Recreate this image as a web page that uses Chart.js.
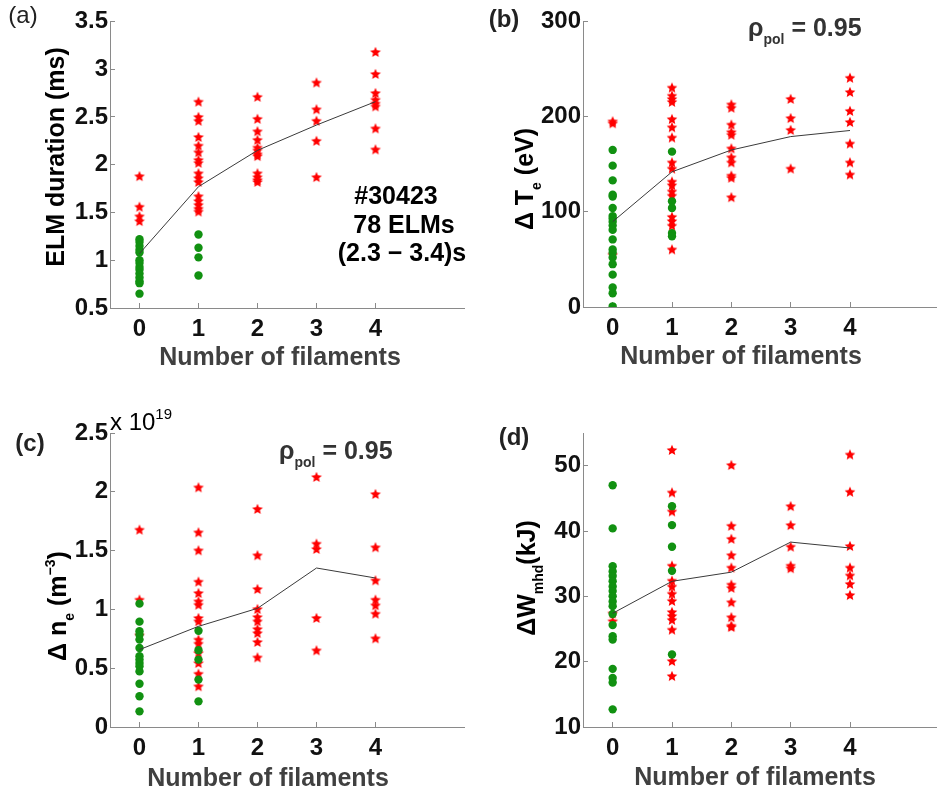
<!DOCTYPE html>
<html>
<head>
<meta charset="utf-8">
<script src="https://cdn.jsdelivr.net/npm/chart.js@4.4.1/dist/chart.umd.min.js"></script>
<style>
body { margin: 0; background: #fff; }
#fig { position: relative; width: 937px; height: 793px; overflow: hidden; background: #fff; }
#fig canvas { position: absolute; }
</style>
</head>
<body>
<div id="fig">
  <canvas id="pa" width="470" height="400" style="left:0;top:0"></canvas>
  <canvas id="pb" width="475" height="400" style="left:470px;top:0"></canvas>
  <canvas id="pc" width="470" height="393" style="left:0;top:400px"></canvas>
  <canvas id="pd" width="475" height="393" style="left:470px;top:400px"></canvas>
</div>
<script>
const FONT = '"Liberation Sans", Arial, sans-serif';
const xTicks = [0, 1, 2, 3, 4];

// (a) ELM duration (ms), index = number of filaments
const durStars = [
  [1.88, 1.56, 1.46, 1.41],
  [2.66, 2.50, 2.46, 2.29, 2.20, 2.13, 2.05, 2.02, 1.91, 1.86, 1.82, 1.67, 1.62, 1.58, 1.54, 1.51],
  [2.71, 2.48, 2.35, 2.26, 2.18, 2.15, 2.11, 2.09, 1.91, 1.87, 1.84, 1.82],
  [2.86, 2.58, 2.46, 2.25, 1.87],
  [3.18, 2.95, 2.75, 2.68, 2.64, 2.61, 2.38, 2.16]
];
const durDots = [
  [1.22, 1.19, 1.15, 1.11, 1.08, 1.00, 0.97, 0.93, 0.90, 0.86, 0.82, 0.78, 0.76, 0.65],
  [1.27, 1.13, 1.03, 0.84],
  [], [], []
];
const durMean = [1.07, 1.77, 2.15, 2.415, 2.66];
const durTicks = [0.5, 1, 1.5, 2, 2.5, 3, 3.5];

// (b) delta Te (eV)
const teStars = [
  [195, 193, 55],
  [230.5, 222, 218.6, 215.5, 197.4, 188.8, 178, 151.9, 145.4, 131.7, 128, 121.4, 117, 94.7, 90.3, 85.5, 60.5],
  [212.8, 209.3, 191.6, 183.7, 181, 166.6, 157.3, 151.9, 138, 135.8, 115.3],
  [218.6, 198.4, 186, 145.4],
  [240.8, 225.8, 206, 194.3, 171.7, 151.9, 139.2]
];
const teDots = [
  [165, 148.5, 133, 118, 116, 104, 95.5, 93, 89.6, 85.5, 81, 71, 60.5, 57, 52, 45, 34, 20.5, 14.5, 0.7],
  [163.2, 111, 104, 77.6, 74.2],
  [], [], []
];
const teMean = [89.6, 142, 164.9, 179, 185.4];
const teTicks = [0, 100, 200, 300];

// (c) delta ne (x 10^19 m^-3)
const neStars = [
  [1.678, 1.083, 0.78],
  [2.038, 1.655, 1.502, 1.236, 1.139, 1.069, 1.04, 0.927, 0.899, 0.743, 0.709, 0.63, 0.544, 0.453, 0.346],
  [1.854, 1.46, 1.173, 1.003, 0.935, 0.899, 0.833, 0.799, 0.723, 0.592],
  [2.126, 1.559, 1.514, 0.927, 0.652],
  [1.981, 1.528, 1.247, 1.083, 1.035, 0.964, 0.754]
];
const neDots = [
  [1.049, 0.896, 0.814, 0.785, 0.743, 0.672, 0.601, 0.573, 0.544, 0.516, 0.473, 0.368, 0.261, 0.133],
  [0.819, 0.652, 0.573, 0.403, 0.218],
  [], [], []
];
const neMean = [0.658, 0.856, 1.009, 1.352, 1.267];
const neTicks = [0, 0.5, 1, 1.5, 2, 2.5];

// (d) delta Wmhd (kJ)
const wStars = [
  [27.4, 26.2],
  [52.4, 45.9, 43.0, 34.7, 32.4, 31.5, 30.4, 29.3, 27.6, 27.0, 26.4, 24.9, 20.1, 17.8],
  [50.1, 40.8, 38.8, 36.3, 34.4, 31.8, 31.3, 29.1, 26.8, 25.5, 25.3],
  [43.8, 40.9, 37.6, 34.7, 34.3],
  [51.7, 46.0, 37.7, 34.4, 33.2, 31.9, 30.2]
];
const wDots = [
  [47.0, 40.4, 34.6, 33.8, 33.1, 32.3, 31.5, 30.8, 30.0, 29.2, 28.5, 27.3, 25.6, 23.9, 23.4, 18.9, 17.5, 16.8, 12.7],
  [43.8, 40.9, 37.6, 33.9, 21.1],
  [], [], []
];
const wMean = [27.4, 32.3, 33.7, 38.3, 37.4];
const wTicks = [10, 20, 30, 40, 50];

function starImage(color, r) {
  const c = document.createElement('canvas');
  const s = Math.ceil(r * 2) + 2;
  c.width = c.height = s;
  const g = c.getContext('2d');
  g.fillStyle = color;
  g.beginPath();
  for (let i = 0; i < 10; i++) {
    const rad = i % 2 ? r * 0.46 : r;
    const a = -Math.PI / 2 + i * Math.PI / 5;
    g.lineTo(s / 2 + rad * Math.cos(a), s / 2 + rad * Math.sin(a) + r * 0.08);
  }
  g.closePath();
  g.fill();
  return c;
}
const STAR = starImage('#ff0000', 5.6);

function drawRich(ctx, it) {
  const fs = it.size, ss = Math.round(fs * (it.subScale || 0.58));
  const weight = it.weight || 'bold';
  const fontFor = m => weight + ' ' + (m ? ss : fs) + 'px ' + FONT;
  ctx.save();
  ctx.fillStyle = it.color || '#000';
  ctx.textBaseline = 'alphabetic';
  ctx.textAlign = 'left';
  let total = 0;
  it.parts.forEach(([t, m]) => { ctx.font = fontFor(m); total += ctx.measureText(t).width; });
  ctx.translate(it.x, it.y);
  if (it.rotate) ctx.rotate(-Math.PI / 2);
  let cx = it.align === 'left' ? 0 : -total / 2;
  const base = fs * 0.36;
  it.parts.forEach(([t, m]) => {
    ctx.font = fontFor(m);
    const dy = m === 'sub' ? fs * 0.3 : m === 'sup' ? -fs * 0.45 : 0;
    ctx.fillText(t, cx, base + dy);
    cx += ctx.measureText(t).width;
  });
  ctx.restore();
}

function toPoints(cols) {
  const pts = [];
  cols.forEach((col, n) => col.forEach(v => pts.push({ x: n, y: v })));
  return pts;
}

function panel(id, lay, yMin, yMax, yTicks, stars, dots, mean, texts) {
  const tickFont = { family: FONT, size: 24, weight: 'bold' };
  new Chart(document.getElementById(id), {
    type: 'scatter',
    data: {
      datasets: [
        {
          type: 'line', data: mean.map((v, n) => ({ x: n, y: v })),
          borderColor: '#3a3a3a', borderWidth: 1, pointRadius: 0, fill: false, order: 0
        },
        {
          data: toPoints(dots), pointStyle: 'circle', pointRadius: 4.2,
          backgroundColor: '#119111', borderColor: '#119111', borderWidth: 0, order: 1
        },
        {
          data: toPoints(stars), pointStyle: STAR, pointRadius: 5, order: 2
        }
      ]
    },
    options: {
      responsive: false,
      animation: false,
      layout: { padding: { top: lay.top, right: lay.right, left: 0, bottom: 0 } },
      plugins: { legend: { display: false }, tooltip: { enabled: false } },
      scales: {
        x: {
          type: 'linear', min: -0.5, max: 5.5,
          afterBuildTicks: s => { s.ticks = xTicks.map(v => ({ value: v })); },
          afterFit: s => { s.height = lay.xh; },
          grid: { drawOnChartArea: false, tickLength: -5, color: '#8a8a8a' },
          border: { color: '#8a8a8a', width: 1 },
          ticks: { font: tickFont, color: '#111', padding: 12, maxRotation: 0, callback: v => String(v) }
        },
        y: {
          type: 'linear', min: yMin, max: yMax,
          afterBuildTicks: s => { s.ticks = yTicks.map(v => ({ value: v })); },
          afterFit: s => { s.width = lay.yw; },
          grid: { drawOnChartArea: false, tickLength: -5, color: '#8a8a8a' },
          border: { color: '#8a8a8a', width: 1 },
          ticks: { font: tickFont, color: '#111', padding: 7, callback: v => String(v) }
        }
      }
    },
    plugins: [{
      id: 'richText',
      afterDraw: chart => texts.forEach(it => drawRich(chart.ctx, it))
    }]
  });
}

const xTitle = (x, y) => ({ x: x, y: y, size: 25, color: '#404040', parts: [['Number of filaments']] });
const rho = (x, y) => ({ x: x, y: y, size: 25, color: '#333', align: 'left', parts: [['\u03C1'], ['pol', 'sub'], [' = 0.95']] });

panel('pa', { top: 15, right: 1, yw: 110, xh: 92 }, 0.5, 3.5, durTicks, durStars, durDots, durMean, [
  { x: 23, y: 14, size: 24, weight: 'normal', color: '#222', parts: [['(a)']] },
  { x: 55, y: 157, size: 25, rotate: true, parts: [['ELM duration (ms)']] },
  xTitle(280, 356),
  { x: 396, y: 195, size: 25, parts: [['#30423']] },
  { x: 404, y: 224, size: 25, parts: [['78 ELMs']] },
  { x: 402, y: 252, size: 25, parts: [['(2.3 \u2212 3.4)s']] }
]);

panel('pb', { top: 15, right: 2, yw: 113, xh: 93 }, 0, 300, teTicks, teStars, teDots, teMean, [
  { x: 34, y: 18, size: 24, color: '#222', parts: [['(b)']] },
  { x: 54, y: 179, size: 25, rotate: true, parts: [['\u0394 T'], ['e', 'sub'], [' (eV)']] },
  xTitle(271, 355),
  rho(278, 27)
]);

panel('pc', { top: 33, right: 1, yw: 110, xh: 66 }, 0, 2.5, neTicks, neStars, neDots, neMean, [
  { x: 30, y: 42, size: 24, color: '#222', parts: [['(c)']] },
  { x: 110, y: 21, size: 24, weight: 'normal', subScale: 0.62, align: 'left', parts: [['x 10'], ['19', 'sup']] },
  { x: 57, y: 206, size: 25, rotate: true, parts: [['\u0394 n'], ['e', 'sub'], [' (m'], ['\u22123', 'sup'], [')']] },
  xTitle(268, 377),
  rho(279, 50)
]);

panel('pd', { top: 33, right: 2, yw: 113, xh: 66 }, 10, 55, wTicks, wStars, wDots, wMean, [
  { x: 44, y: 36, size: 24, color: '#222', parts: [['(d)']] },
  { x: 56, y: 178, size: 25, rotate: true, parts: [['\u0394W'], ['mhd', 'sub'], ['(kJ)']] },
  xTitle(285, 376)
]);
</script>
</body>
</html>
